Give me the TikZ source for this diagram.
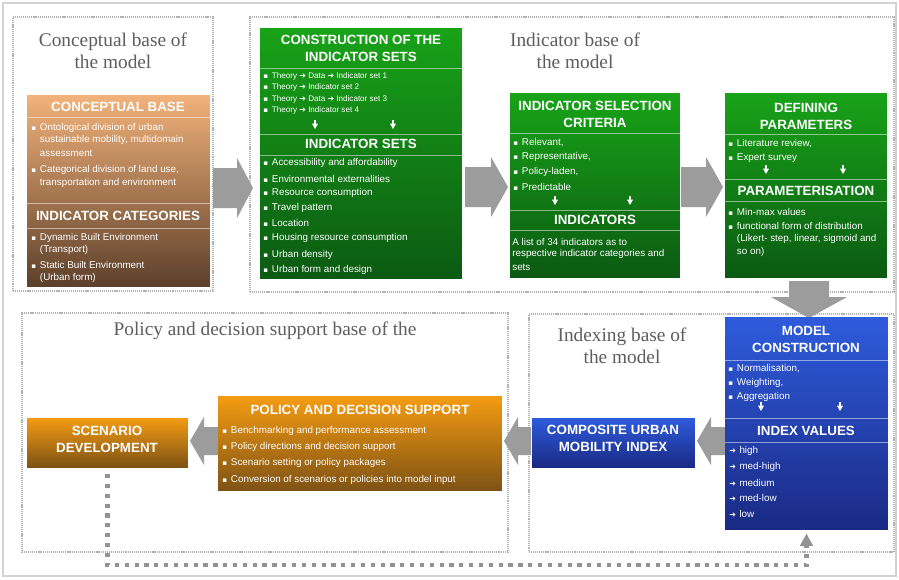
\documentclass[tikz,border=0pt]{standalone}
\usepackage{fontspec}
\setmainfont{Liberation Serif}
\setsansfont{Liberation Sans}
\newfontfamily\symfont{DejaVu Sans}
\usetikzlibrary{arrows.meta}
\definecolor{tanT}{HTML}{F2B27A}
\definecolor{tanB}{HTML}{5C3F2A}
\definecolor{grnT}{HTML}{18A318}
\definecolor{grnB}{HTML}{0B5A12}
\definecolor{bluT}{HTML}{2E5BDC}
\definecolor{bluB}{HTML}{1A2A84}
\definecolor{orgT}{HTML}{F59C12}
\definecolor{orgB}{HTML}{7E5214}
\definecolor{ttlgray}{HTML}{5E5E5E}
\definecolor{arrgray}{HTML}{9C9C9C}
\newcommand\bul{{\symfont\fontsize{4}{4}\selectfont ▪}\hspace{2.2pt}}
\newcommand\nobul{\phantom{\bul}}
\newcommand\arr{{\symfont\fontsize{4.5}{4.5}\selectfont ➔}}
\newcommand\pbox[6]{\node[#2, minimum width={(#5-#3)*0.569pt}, minimum height={(#6-#4)*0.569pt}] (#1) at ({(#3+#5)/2},{(#4+#6)/2}) {};}
\tikzset{
  x=0.02cm, y=-0.02cm,
  grp/.style={draw=gray!60, line width=1.1pt, dash pattern=on 0.6pt off 0.5pt, inner sep=0, outer sep=0},
  ttl/.style={font=\fontsize{11}{12.5}\selectfont, text=ttlgray, align=center, inner sep=0},
  hdr/.style={font=\sffamily\bfseries\fontsize{7.6}{9.6}\selectfont, text=white, align=center, inner sep=0},
  itm/.style={font=\sffamily\fontsize{5.6}{6.5}\selectfont, text=white, anchor=west, inner sep=0},
  itms/.style={itm, font=\sffamily\fontsize{4.6}{5.5}\selectfont},
  sep/.style={draw=white, opacity=0.5, line width=0.5pt},
  tanbox/.style={top color=tanT, bottom color=tanB, inner sep=0, outer sep=0},
  grnbox/.style={top color=grnT, bottom color=grnB, inner sep=0, outer sep=0},
  blubox/.style={top color=bluT, bottom color=bluB, inner sep=0, outer sep=0},
  orgbox/.style={top color=orgT, bottom color=orgB, inner sep=0, outer sep=0},
  bigarr/.style={fill=arrgray, draw=none},
  smallarr/.style={draw=white, line width=0.6pt, -{Triangle[length=3pt,width=3.2pt]}},
  dotcon/.style={draw=gray!85, line width=2.4pt, dash pattern=on 2.4pt off 3.2pt},
}
\begin{document}
\begin{tikzpicture}
\useasboundingbox (0,0) rectangle (899,579);
\fill[white] (0,0) rectangle (899,579);
\pbox{frame}{draw=gray!35, line width=1.2pt, inner sep=0}{3}{3}{896}{576}
% group boxes
\pbox{g1}{grp}{13}{17}{213}{291}
\pbox{g2}{grp}{250}{17}{894}{292}
\pbox{g3}{grp}{22}{313}{508}{552}
\pbox{g4}{grp}{529}{314}{894}{552}
\node[ttl] (t1) at (113,51) {Conceptual base of\\the model};
\node[ttl] (t2) at (575,51) {Indicator base of\\the model};
\node[ttl] (t3) at (265,331) {Policy and decision support base of the};
\node[ttl] (t4) at (622,346) {Indexing base of\\the model};
% big arrows
\fill[bigarr] (213,168) -- (237,168) -- (237,158) -- (253,188) -- (237,218) -- (237,208) -- (213,208) -- cycle;
\fill[bigarr] (465,167) -- (491,167) -- (491,157) -- (508,187) -- (491,217) -- (491,207) -- (465,207) -- cycle;
\fill[bigarr] (681,167) -- (706,167) -- (706,157) -- (723,187) -- (706,217) -- (706,207) -- (681,207) -- cycle;
\fill[bigarr] (789,281) -- (829,281) -- (829,297) -- (847,297) -- (809,318) -- (771,297) -- (789,297) -- cycle;
\fill[bigarr] (725,427) -- (711,427) -- (711,417) -- (697,441) -- (711,465) -- (711,455) -- (725,455) -- cycle;
\fill[bigarr] (531,427) -- (518,427) -- (518,417) -- (504,441) -- (518,465) -- (518,455) -- (531,455) -- cycle;
\fill[bigarr] (218,427) -- (204,427) -- (204,417) -- (190,441) -- (204,465) -- (204,455) -- (218,455) -- cycle;
% conceptual base
\pbox{cb}{tanbox}{27}{95}{210}{287}
\node[hdr] (cbh1) at (118,107) {CONCEPTUAL BASE};
\draw[sep] (27,117) -- (210,117);
\node[itm] (cbi1) at (31,128) {\bul Ontological division of urban};
\node[itm] (cbi1b) at (31,140) {\nobul sustainable mobility, multidomain};
\node[itm] (cbi1c) at (31,153) {\nobul assessment};
\node[itm] (cbi2) at (31,170) {\bul Categorical division of land use,};
\node[itm] (cbi2b) at (31,183) {\nobul transportation and environment};
\draw[sep] (27,203) -- (210,203);
\node[hdr] (cbh2) at (118,216) {INDICATOR CATEGORIES};
\draw[sep] (27,228) -- (210,228);
\node[itm] (cbi3) at (31,238) {\bul Dynamic Built Environment};
\node[itm] (cbi3b) at (31,250) {\nobul (Transport)};
\node[itm] (cbi4) at (31,265) {\bul Static Built Environment};
\node[itm] (cbi4b) at (31,278) {\nobul (Urban form)};
% construction
\pbox{cs}{grnbox}{260}{28}{462}{279}
\node[hdr] (csh1) at (361,48) {CONSTRUCTION OF THE\\INDICATOR SETS};
\draw[sep] (260,68) -- (462,68);
\foreach \t/\yy [count=\i] in {Theory \arr{} Data \arr{} Indicator set 1/76, Theory \arr{} Indicator set 2/87, Theory \arr{} Data \arr{} Indicator set 3/99, Theory \arr{} Indicator set 4/110}
  \node[itms] (csa\i) at (263,\yy) {\bul\t};
\draw[smallarr] (315,120) -- (315,129);
\draw[smallarr] (393,120) -- (393,129);
\draw[sep] (260,134) -- (462,134);
\node[hdr] (csh2) at (361,144) {INDICATOR SETS};
\draw[sep] (260,155) -- (462,155);
\foreach \t/\yy [count=\i] in {Accessibility and affordability/163, Environmental externalities/179, Resource consumption/193, Travel pattern/208, Location/223, Housing resource consumption/238, Urban density/255, Urban form and design/270}
  \node[itm] (csb\i) at (263,\yy) {\bul\t};
% selection criteria
\pbox{sc}{grnbox}{510}{93}{680}{278}
\node[hdr] (sch1) at (595,114) {INDICATOR SELECTION\\CRITERIA};
\draw[sep] (510,133) -- (680,133);
\foreach \t/\yy [count=\i] in {{Relevant,}/143, {Representative,}/157, {Policy-laden,}/172, Predictable/187}
  \node[itm] (sca\i) at (513,\yy) {\bul\t};
\draw[smallarr] (555,196) -- (555,205);
\draw[smallarr] (630,196) -- (630,205);
\draw[sep] (510,210) -- (680,210);
\node[hdr] (sch2) at (595,220) {INDICATORS};
\draw[sep] (510,230) -- (680,230);
\node[itm] (scb1) at (512,242) {A list of 34 indicators as to};
\node[itm] (scb2) at (512,254) {respective indicator categories and};
\node[itm] (scb3) at (512,267) {sets};
% defining parameters
\pbox{dp}{grnbox}{725}{93}{887}{278}
\node[hdr] (dph1) at (806,116) {DEFINING\\PARAMETERS};
\draw[sep] (725,134) -- (887,134);
\node[itm] (dpa1) at (728,144) {\bul Literature review,};
\node[itm] (dpa2) at (728,158) {\bul Expert survey};
\draw[smallarr] (766,165) -- (766,174);
\draw[smallarr] (843,165) -- (843,174);
\draw[sep] (725,179) -- (887,179);
\node[hdr] (dph2) at (806,191) {PARAMETERISATION};
\draw[sep] (725,201) -- (887,201);
\node[itm] (dpb1) at (728,212) {\bul Min-max values};
\node[itm] (dpb2) at (728,226) {\bul functional form of distribution};
\node[itm] (dpb3) at (728,239) {\nobul (Likert- step, linear, sigmoid and};
\node[itm] (dpb4) at (728,252) {\nobul so on)};
% model construction
\pbox{mc}{blubox}{725}{317}{888}{530}
\node[hdr] (mch1) at (806,339) {MODEL\\CONSTRUCTION};
\draw[sep] (725,360) -- (888,360);
\foreach \t/\yy [count=\i] in {{Normalisation,}/369, {Weighting,}/383, Aggregation/397}
  \node[itm] (mca\i) at (728,\yy) {\bul\t};
\draw[smallarr] (761,402) -- (761,411);
\draw[smallarr] (840,402) -- (840,411);
\draw[sep] (725,418) -- (888,418);
\node[hdr] (mch2) at (806,431) {INDEX VALUES};
\draw[sep] (725,442) -- (888,442);
\foreach \t/\yy [count=\i] in {high/451, med-high/467, medium/483, med-low/498, low/514}
  \node[itm] (mcb\i) at (729,\yy) {\arr\hspace{2pt}\t};
% composite index
\pbox{cu}{blubox}{532}{418}{695}{467}
\node[hdr] (cuh) at (613,438) {COMPOSITE URBAN\\MOBILITY INDEX};
% policy
\pbox{pd}{orgbox}{218}{396}{502}{491}
\node[hdr] (pdh) at (360,410) {POLICY AND DECISION SUPPORT};
\foreach \t/\yy [count=\i] in {Benchmarking and performance assessment/431, Policy directions and decision support/447, Scenario setting or policy packages/463, Conversion of scenarios or policies into model input/480}
  \node[itm] (pdi\i) at (222,\yy) {\bul\t};
% scenario
\pbox{sd}{orgbox}{27}{418}{188}{467}
\node[hdr] (sdh) at (107,439) {SCENARIO\\DEVELOPMENT};
% dotted feedback connector
\coordinate (db) at (0,565);
\draw[dotcon, -{Triangle[length=7pt,width=7pt]}, shorten <=4pt, shorten >=2pt] (sd.south) -- (sd.south |- db) -- (mc.south |- db) -- (mc.south);
\end{tikzpicture}
\end{document}
